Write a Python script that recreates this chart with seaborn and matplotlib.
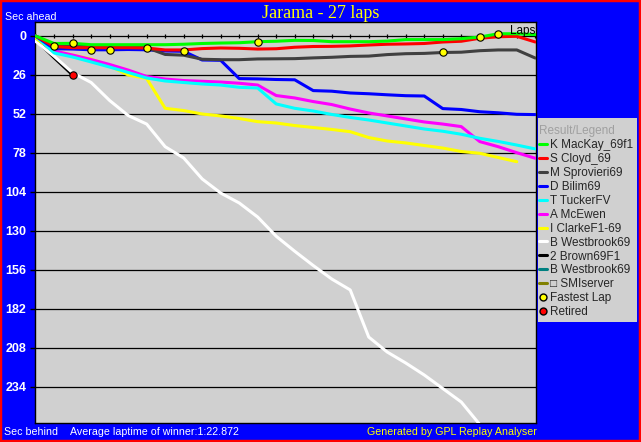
'''
GPL replay - lap chart, Jarama
'''

import matplotlib
matplotlib.use('Agg')
import matplotlib.pyplot as plt
from matplotlib.lines import Line2D
from matplotlib.patches import Rectangle
import pandas as pd
import seaborn as sns

### Data (seconds behind reference, one value per lap)
laps = list(range(28))

mackay = [0, 5.0, 4.9, 5.8, 5.8, 5.8, 5.8, 5.8, 5.5, 5.0, 4.7, 4.5, 3.8, 3.5, 2.9, 3.0,
          3.8, 3.8, 3.8, 3.4, 2.4, 2.4, 2.4, 1.8, 0.7, -1.5, -1.5, -0.9]
cloyd = [0, 7.0, 7.8, 7.8, 7.8, 7.8, 8.0, 9.3, 9.3, 8.4, 8.0, 8.2, 8.7, 8.5, 7.5, 7.0,
         6.9, 6.6, 6.0, 5.5, 5.3, 5.0, 4.0, 3.5, 1.5, 0.5, 0.2, 4.0]
sprovieri = [0, 6.9, 6.9, 6.9, 6.9, 7.2, 7.8, 12.3, 12.8, 15.5, 15.8, 15.8, 15.3, 15.2, 15.1, 14.6,
             14.2, 13.6, 13.4, 12.4, 11.8, 11.6, 11.0, 10.8, 9.8, 9.3, 9.3, 14.7]
bilim = [0, 8.5, 8.7, 9.2, 9.2, 9.0, 9.2, 10.0, 10.2, 16.0, 16.2, 28.4, 28.6, 29.0, 29.2, 36.4,
         36.8, 38.0, 38.5, 39.2, 39.8, 40.0, 48.4, 49.0, 50.5, 51.2, 52.2, 52.4]
tucker = [0, 11.3, 14.0, 17.3, 20.7, 24.3, 28.0, 30.0, 31.0, 32.0, 32.7, 34.2, 34.7, 45.3, 48.2, 50.0,
          52.3, 54.3, 56.0, 58.0, 60.0, 62.0, 63.5, 65.5, 68.2, 70.3, 72.7, 75.3]
mcewen = [0, 10.0, 12.7, 15.7, 19.0, 22.7, 27.0, 28.7, 29.7, 30.2, 30.7, 31.5, 32.7, 39.7, 41.3, 43.7,
          45.7, 48.7, 51.3, 53.3, 55.3, 57.3, 58.7, 60.4, 70.4, 73.8, 77.8, 81.5]
clarke = [1.5, 10.0, 12.7, 15.3, 20.0, 26.0, 28.3, 48.2, 49.7, 52.0, 53.3, 55.0, 57.1, 58.0, 59.7, 61.0,
          62.3, 63.8, 67.7, 70.0, 71.3, 73.0, 74.7, 77.0, 78.2, 81.0, 83.8]
westbrook = [3.5, 13.5, 24.5, 31.0, 43.0, 53.0, 58.7, 73.8, 81.3, 95.3, 104.7, 111.3, 120.7, 133.5, 143.5,
             153.0, 162.0, 169.3, 200.7, 210.7, 218.0, 226.0, 235.0, 244.0, 259.0]
brown = [2.5, 14.5, 26.0]

drivers = ['mackay', 'cloyd', 'sprovieri', 'bilim', 'tucker', 'mcewen', 'clarke', 'westbrook', 'brown']
series = [mackay, cloyd, sprovieri, bilim, tucker, mcewen, clarke, westbrook, brown]

legend_labels = ['K MacKay_69f1', 'S Cloyd_69', 'M Sprovieri69', 'D Bilim69', 'T TuckerFV', 'A McEwen',
                 'I ClarkeF1-69', 'B Westbrook69', '2 Brown69F1', 'B Westbrook69', '\u25a1 SMIserver']
legend_colors = ['#00ff00', '#ff0000', '#404040', '#0000ff', '#00ffff', '#ff00ff',
                 '#ffff00', '#ffffff', '#000000', '#008080', '#808000']

# fastest laps and retirements
fl_laps = [1, 2, 3, 4, 6, 8, 12, 22, 24, 25]
fl_secs = [6.5, 4.9, 9.3, 9.3, 7.8, 10.2, 3.8, 11.0, 0.7, -1.5]
ret_laps = [2]
ret_secs = [26.0]

ytick_vals = list(range(0, 235, 26))

### Long form table
rows = []
for name, vals in zip(drivers, series):
    for lap, sec in zip(laps, vals):
        rows.append({'lap': lap, 'sec': sec, 'driver': name})
df = pd.DataFrame(rows)
palette = dict(zip(drivers, legend_colors))

### Figure
sns.set_style('white')
plt.rcParams['font.family'] = ['Liberation Sans', 'DejaVu Sans']

W, H = 641, 442
fig = plt.figure(figsize=(W / 100, H / 100), dpi=100, facecolor='#0000ff')
ax = fig.add_axes([34.7 / W, 1 - 423 / H, (536.4 - 34.7) / W, (423 - 22) / H])
ax.set_facecolor('#d0d0d0')

ax.grid(axis='y', color='black', lw=0.9)
ax.set_axisbelow(True)
ax.vlines(laps[1:], -1.6, 1.6, color='black', lw=0.9, zorder=1)

sns.lineplot(data=df, x='lap', y='sec', hue='driver', hue_order=drivers[::-1], palette=palette,
             estimator=None, sort=False, legend=False, lw=2.2, ax=ax, zorder=3)
sns.scatterplot(x=fl_laps, y=fl_secs, color='#ffff00', edgecolor='black', linewidth=0.8, s=28,
                ax=ax, zorder=5)
sns.scatterplot(x=ret_laps, y=ret_secs, color='#ff0000', edgecolor='black', linewidth=0.8, s=28,
                ax=ax, zorder=5)

ax.set_xlim(-0.05, 27.06)
ax.set_ylim(258, -9.33)
ax.set_xlabel('')
ax.set_ylabel('')
ax.set_xticks([])
ax.set_yticks(ytick_vals)
ax.set_yticklabels([str(v) for v in ytick_vals])
ax.tick_params(axis='y', left=True, length=3.5, width=1, color='black', pad=2.5,
               labelcolor='white', labelsize=9)
for lbl in ax.get_yticklabels():
    lbl.set_fontweight('bold')
for sp in ax.spines.values():
    sp.set_color('black')
    sp.set_linewidth(1)

ax.text(26.98, -1.0, 'Laps', ha='right', va='baseline', fontsize=8.5, color='black')

### Texts around the plot
fig.text(320.5 / W, 1 - 17.5 / H, 'Jarama - 27 laps', ha='center', va='baseline',
         color='#ffff00', fontsize=13, family='Liberation Serif')
fig.text(5 / W, 1 - 20 / H, 'Sec ahead', ha='left', va='baseline', color='white', fontsize=7.7)
fig.text(4 / W, 1 - 435 / H, 'Sec behind', ha='left', va='baseline', color='white', fontsize=7.7)
fig.text(69.5 / W, 1 - 435 / H, 'Average laptime of winner:1:22.872', ha='left', va='baseline',
         color='white', fontsize=7.7)
fig.text(537 / W, 1 - 435 / H, 'Generated by GPL Replay Analyser', ha='right', va='baseline',
         color='#ffff00', fontsize=7.7)

### Legend
fig.patches.append(Rectangle((538 / W, 1 - 322 / H), 99 / W, 204 / H, transform=fig.transFigure,
                             facecolor='#d0d0d0', edgecolor='none', zorder=0))
handles = [Line2D([], [], color=c, lw=2.2) for c in legend_colors]
handles.append(Line2D([], [], ls='none', marker='o', mfc='#ffff00', mec='black', ms=5))
handles.append(Line2D([], [], ls='none', marker='o', mfc='#ff0000', mec='black', ms=5))
labels = legend_labels + ['Fastest Lap', 'Retired']
leg = fig.legend(handles, labels, loc='upper left', bbox_to_anchor=(538.5 / W, 1 - 125 / H),
                 frameon=False, fontsize=8.5, handlelength=0.75, handletextpad=0.2,
                 labelspacing=0.165, borderpad=0, borderaxespad=0, title='Result/Legend',
                 title_fontsize=8.5, alignment='left')
leg.get_title().set_color('#a0a0a0')

# red window border
fig.patches.append(Rectangle((0, 0), 1, 1, transform=fig.transFigure, fill=False,
                             edgecolor='#ff0000', lw=3.2))

fig.savefig('out.png', dpi=100, facecolor=fig.get_facecolor())
